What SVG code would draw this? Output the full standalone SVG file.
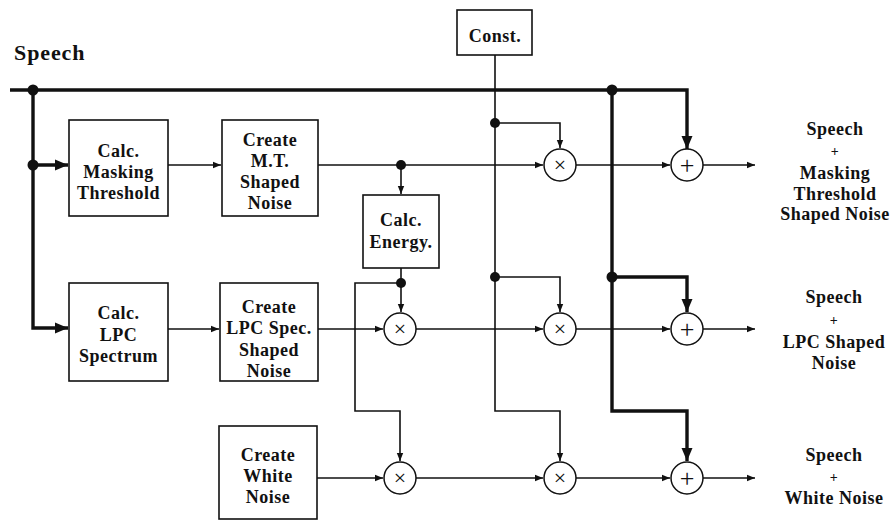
<svg xmlns="http://www.w3.org/2000/svg" width="893" height="520" viewBox="0 0 893 520" font-family="'Liberation Serif', serif">
<style>
  .box { fill: #fff; stroke: #111; stroke-width: 1.6; }
  .op { fill: #fff; stroke: #111; stroke-width: 1.5; }
  .t { font-family: 'Liberation Serif', serif; font-weight: bold; font-size: 18px; letter-spacing: 0.5px; fill: #111; text-anchor: middle; }
  .sym { font-family: 'Liberation Serif', serif; font-size: 22px; fill: #111; text-anchor: middle; }
  .thin { fill: none; stroke: #111; stroke-width: 1.6; marker-end: url(#a); }
  .thicka { fill: none; stroke: #111; stroke-width: 3.4; marker-end: url(#b); }
  .dot { fill: #111; }
</style>
<defs>
  <marker id="a" markerUnits="userSpaceOnUse" markerWidth="10" markerHeight="8" refX="8" refY="4" orient="auto">
    <path d="M0,0.8 L8,4 L0,7.2 Z" fill="#111"/>
  </marker>
  <marker id="b" markerUnits="userSpaceOnUse" markerWidth="15" markerHeight="12" refX="13" refY="6" orient="auto">
    <path d="M0,0.5 L13,6 L0,11.5 Z" fill="#111"/>
  </marker>
</defs>
<rect width="893" height="520" fill="#fff"/>

<g id="connectors">
  <path class="thicka" d="M10,90 H687 V149"/>
  <path class="thicka" d="M33,90 V328 H68"/>
  <path class="thicka" d="M33,165 H68"/>
  <path class="thicka" d="M612,90 V411 H687 V461"/>
  <path class="thicka" d="M612,277 H687 V312"/>
  <path class="thin" d="M168,165 H221"/>
  <path class="thin" d="M318,165 H543"/>
  <path class="thin" d="M401,165 V194"/>
  <path class="thin" d="M576,165 H670"/>
  <path class="thin" d="M703,165 H755"/>
  <path class="thin" d="M495,55 V411 H560 V461"/>
  <path class="thin" d="M495,123 H560 V148"/>
  <path class="thin" d="M495,277 H560 V312"/>
  <path class="thin" d="M401,268 V312"/>
  <path class="thin" d="M401,283 H355 V411 H400 V461"/>
  <path class="thin" d="M168,329 H219"/>
  <path class="thin" d="M318,329 H383"/>
  <path class="thin" d="M416,329 H543"/>
  <path class="thin" d="M576,329 H670"/>
  <path class="thin" d="M703,329 H755"/>
  <path class="thin" d="M317,478 H383"/>
  <path class="thin" d="M416,478 H543"/>
  <path class="thin" d="M576,478 H670"/>
  <path class="thin" d="M703,478 H755"/>
  <circle class="dot" cx="33" cy="90" r="5.5"/>
  <circle class="dot" cx="33" cy="165" r="5.5"/>
  <circle class="dot" cx="612" cy="90" r="5.5"/>
  <circle class="dot" cx="612" cy="277" r="5.5"/>
  <circle class="dot" cx="495" cy="123" r="5"/>
  <circle class="dot" cx="495" cy="277" r="5"/>
  <circle class="dot" cx="401" cy="165" r="5"/>
  <circle class="dot" cx="401" cy="283" r="5"/>
</g>

<g id="speech-in">
  <text class="t" x="14" y="60" style="text-anchor:start;font-size:22px;letter-spacing:0.9px">Speech</text>
</g>

<g id="const">
  <rect class="box" x="457" y="10" width="75" height="45"/>
  <text class="t" x="495" y="42">Const.</text>
</g>

<g id="calc-masking">
  <rect class="box" x="69" y="120" width="99" height="96"/>
  <text class="t" x="118.5" y="157">Calc.</text>
  <text class="t" x="118.5" y="178">Masking</text>
  <text class="t" x="118.5" y="199">Threshold</text>
</g>

<g id="create-mt">
  <rect class="box" x="222" y="120" width="96" height="96"/>
  <text class="t" x="270" y="146">Create</text>
  <text class="t" x="270" y="167">M.T.</text>
  <text class="t" x="270" y="188">Shaped</text>
  <text class="t" x="270" y="209">Noise</text>
</g>

<g id="calc-energy">
  <rect class="box" x="363" y="195" width="76" height="73"/>
  <text class="t" x="401" y="226">Calc.</text>
  <text class="t" x="401" y="248">Energy.</text>
</g>

<g id="calc-lpc">
  <rect class="box" x="69" y="283" width="99" height="98"/>
  <text class="t" x="118.5" y="319">Calc.</text>
  <text class="t" x="118.5" y="341">LPC</text>
  <text class="t" x="118.5" y="362">Spectrum</text>
</g>

<g id="create-lpc">
  <rect class="box" x="220" y="283" width="98" height="98"/>
  <text class="t" x="269" y="313">Create</text>
  <text class="t" x="269" y="334">LPC Spec.</text>
  <text class="t" x="269" y="356">Shaped</text>
  <text class="t" x="269" y="377">Noise</text>
</g>

<g id="create-white">
  <rect class="box" x="219" y="426" width="98" height="93"/>
  <text class="t" x="268" y="461">Create</text>
  <text class="t" x="268" y="482">White</text>
  <text class="t" x="268" y="503">Noise</text>
</g>

<g id="mul-1-2">
  <circle class="op" cx="560" cy="165" r="16"/>
  <text class="sym" x="560" y="172">&#215;</text>
</g>
<g id="mul-2-1">
  <circle class="op" cx="400" cy="329" r="16"/>
  <text class="sym" x="400" y="336">&#215;</text>
</g>
<g id="mul-2-2">
  <circle class="op" cx="560" cy="329" r="16"/>
  <text class="sym" x="560" y="336">&#215;</text>
</g>
<g id="mul-3-1">
  <circle class="op" cx="400" cy="478" r="16"/>
  <text class="sym" x="400" y="485">&#215;</text>
</g>
<g id="mul-3-2">
  <circle class="op" cx="560" cy="478" r="16"/>
  <text class="sym" x="560" y="485">&#215;</text>
</g>
<g id="add-1">
  <circle class="op" cx="687" cy="165" r="16"/>
  <text class="sym" x="687" y="174" style="font-size:26px">+</text>
</g>
<g id="add-2">
  <circle class="op" cx="687" cy="329" r="16"/>
  <text class="sym" x="687" y="338" style="font-size:26px">+</text>
</g>
<g id="add-3">
  <circle class="op" cx="687" cy="478" r="16"/>
  <text class="sym" x="687" y="487" style="font-size:26px">+</text>
</g>

<g id="out-1">
  <text class="t" x="835" y="135">Speech</text>
  <text class="t" x="835" y="156" style="font-size:14px">+</text>
  <text class="t" x="835" y="179">Masking</text>
  <text class="t" x="835" y="200">Threshold</text>
  <text class="t" x="835" y="220">Shaped Noise</text>
</g>
<g id="out-2">
  <text class="t" x="834" y="303">Speech</text>
  <text class="t" x="834" y="325" style="font-size:14px">+</text>
  <text class="t" x="834" y="348">LPC Shaped</text>
  <text class="t" x="834" y="369">Noise</text>
</g>
<g id="out-3">
  <text class="t" x="834" y="461">Speech</text>
  <text class="t" x="834" y="482" style="font-size:14px">+</text>
  <text class="t" x="834" y="504">White Noise</text>
</g>
</svg>
